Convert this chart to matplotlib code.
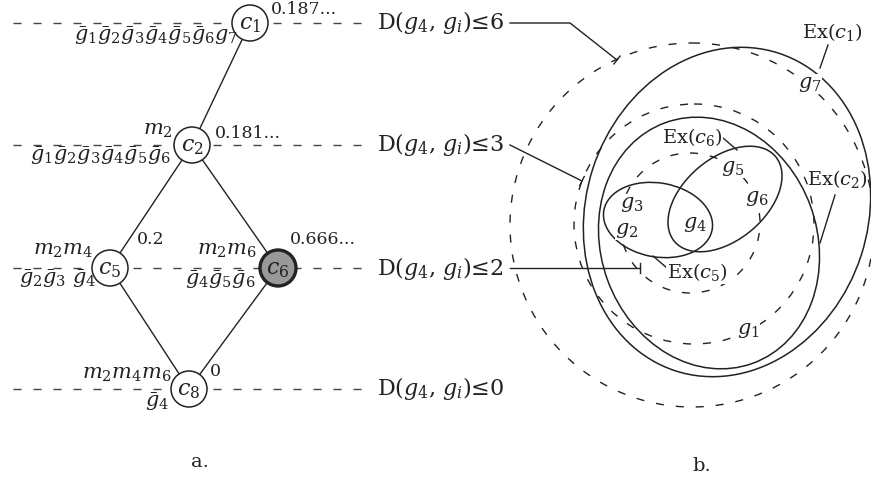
import matplotlib.pyplot as plt
from matplotlib.patches import Circle, Ellipse
import numpy as np

plt.rcParams['font.family'] = 'DejaVu Serif'
plt.rcParams['mathtext.fontset'] = 'dejavuserif'
plt.rcParams['lines.scale_dashes'] = False

# concept lattice (part a)
nodes = ['c_1', 'c_2', 'c_5', 'c_6', 'c_8']
scores = ['0.187...', '0.181...', '0.2', '0.666...', '0']
levels = [6, 3, 2, 0]
node_level = [0, 1, 2, 2, 3]
edges = [(0, 1), (1, 2), (1, 3), (2, 4), (3, 4)]
intent_m = ['', r'$m_2$', r'$m_2m_4$', r'$m_2m_6$', r'$m_2m_4m_6$']
intent_g = [r'$\bar{g}_1\bar{g}_2\bar{g}_3\bar{g}_4\bar{g}_5\bar{g}_6g_7$',
            r'$\bar{g}_1\bar{g}_2\bar{g}_3\bar{g}_4\bar{g}_5\bar{g}_6$',
            r'$\bar{g}_2\bar{g}_3\ \bar{g}_4$',
            r'$\bar{g}_4\bar{g}_5\bar{g}_6$',
            r'$\bar{g}_4$']
selected = 3

# extents (part b)
genes = ['g_1', 'g_2', 'g_3', 'g_4', 'g_5', 'g_6', 'g_7']
ext_names = ['Ex($c_1$)', 'Ex($c_2$)', 'Ex($c_6$)', 'Ex($c_5$)']

# layout in pixels
row_y = [23, 145, 268, 389]
node_x = [250, 192, 110, 278, 189]
R = 18
line_x0, line_x1 = 13, 370
label_x = 377

fig = plt.figure(figsize=(8.71, 4.87), dpi=100)
ax = fig.add_axes([0, 0, 1, 1])
ax.set_xlim(0, 871)
ax.set_ylim(487, 0)
ax.axis('off')

dash = (0, (5.8, 8.6))
ink = '#222222'

# level lines and their distance labels
for y, d in zip(row_y, levels):
    ax.plot([line_x0, line_x1], [y, y], color='#444444', lw=1.0, linestyle=dash, zorder=1)
    ax.text(label_x, y, 'D($g_4$, $g_i$)≤%d' % d, fontsize=16, ha='left', va='center', color=ink)

pos = [(node_x[i], row_y[node_level[i]]) for i in range(len(nodes))]

for a, b in edges:
    ax.plot([pos[a][0], pos[b][0]], [pos[a][1], pos[b][1]], color=ink, lw=1.0, zorder=2)

for i, name in enumerate(nodes):
    x, y = pos[i]
    if i == selected:
        ax.add_patch(Circle((x, y), R, facecolor='#999999', edgecolor=ink, lw=2.4, zorder=3))
    else:
        ax.add_patch(Circle((x, y), R, facecolor='white', edgecolor=ink, lw=1.1, zorder=3))
    ax.text(x, y + 1, '$%s$' % name, fontsize=16, ha='center', va='center', color=ink, zorder=4)

# score labels (top right of each node)
score_xy = [(271, 10), (215, 134), (137, 240), (290, 240), (210, 372)]
for s, (x, y) in zip(scores, score_xy):
    ax.text(x, y, s, fontsize=12.5, ha='left', va='center', color=ink)

# intent labels (left of each node)
m_xy = [None, (173, 131), (93, 251), (257, 251), (171, 375)]
g_xy = [(238, 36), (171, 156), (96, 279), (256, 280), (169, 402)]
for i in range(len(nodes)):
    if intent_m[i]:
        ax.text(*m_xy[i], intent_m[i], fontsize=15, ha='right', va='center', color=ink)
    ax.text(*g_xy[i], intent_g[i], fontsize=15, ha='right', va='center', color=ink)

ax.text(200, 462, 'a.', fontsize=14, ha='center', va='center', color=ink)
ax.text(702, 466, 'b.', fontsize=14, ha='center', va='center', color=ink)

# distance balls around g4
balls = [((692, 225), 182), ((694, 224), 120), ((690, 223), 70)]
for (cx, cy), r in balls:
    ax.add_patch(Circle((cx, cy), r, fill=False, edgecolor=ink, lw=1.0, linestyle=dash))

# extents of c1, c2, c6, c5
ext_shapes = [((727, 212), 282, 334, 18), ((709, 243), 216, 256, -20),
              ((725, 199), 132, 82, -40), ((658, 220), 110, 74, 10)]
for (cx, cy), w, h, ang in ext_shapes:
    ax.add_patch(Ellipse((cx, cy), w, h, angle=ang, fill=False, edgecolor=ink, lw=1.1))

def leader(pts, tick=True):
    xs, ys = zip(*pts)
    ax.plot(xs, ys, color=ink, lw=1.0)
    if tick:
        p0, p1 = np.array(pts[-2]), np.array(pts[-1])
        d = (p1 - p0) / np.hypot(*(p1 - p0))
        n = np.array([-d[1], d[0]]) * 5
        ax.plot([p1[0] - n[0], p1[0] + n[0]], [p1[1] - n[1], p1[1] + n[1]], color=ink, lw=1.0)

leader([(510, 23), (570, 23), (617, 60)])
leader([(510, 145), (582, 181)])
leader([(510, 268), (640, 268)])

# extent labels with short pointers
ax.text(832, 32, ext_names[0], fontsize=14, ha='center', va='center', color=ink)
leader([(828, 45), (820, 68)], tick=False)
ax.text(837, 179, ext_names[1], fontsize=14, ha='center', va='center', color=ink)
leader([(835, 195), (820, 243)], tick=False)
ax.text(692, 137, ext_names[2], fontsize=14, ha='center', va='center', color=ink,
        bbox=dict(facecolor='white', edgecolor='none', pad=0.5))
leader([(723, 138), (737, 150)], tick=False)
ax.text(697, 272, ext_names[3], fontsize=14, ha='center', va='center', color=ink,
        bbox=dict(facecolor='white', edgecolor='none', pad=0.5))
leader([(653, 256), (667, 268)], tick=False)

gene_xy = [(748, 330), (627, 230), (632, 204), (695, 225), (733, 168), (757, 198), (810, 84)]
for g, (x, y) in zip(genes, gene_xy):
    ax.text(x, y, '$%s$' % g, fontsize=15, ha='center', va='center', color=ink,
            bbox=dict(facecolor='white', edgecolor='none', pad=0.3))

fig.savefig('out.png', dpi=100)
